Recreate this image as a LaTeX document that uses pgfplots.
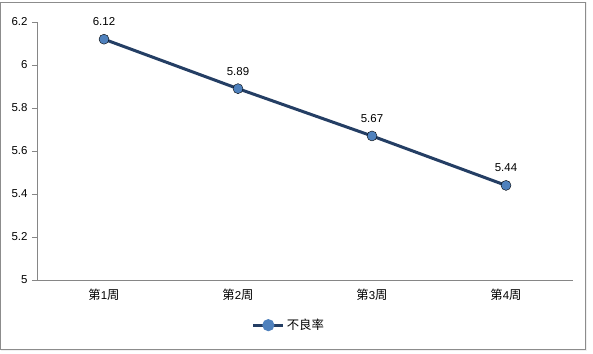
\documentclass[border=0pt]{standalone}
\usepackage{fontspec}
\setmainfont{Liberation Sans}
\newfontfamily\cjk[Scale=1.08]{Noto Sans CJK SC}
\usepackage{pgfplots}
\pgfplotsset{compat=1.18}
\definecolor{lineblue}{RGB}{36,62,100}
\definecolor{markblue}{RGB}{79,129,189}
\definecolor{axgray}{RGB}{134,134,134}
\pgfplotstableread{
x y lbl
1 6.12 6.12
2 5.89 5.89
3 5.67 5.67
4 5.44 5.44
}\datatable
\begin{document}
\begin{tikzpicture}[x=1bp,y=1bp]
\useasboundingbox (-37,-73) rectangle (556,280);
\fill[black!6] (-36,-71) rectangle (550,278);
\draw[black!45,line width=1bp,fill=white] (-36,-69) rectangle (548,278);
\begin{axis}[
  at={(0,0)}, anchor=origin,
  scale only axis, width=536bp, height=258bp,
  xmin=0.5, xmax=4.5, ymin=5, ymax=6.2,
  axis x line*=bottom, axis y line*=left,
  axis line style={axgray, line width=0.8bp},
  xtick={1,2,3,4},
  xticklabels={{\cjk 第}1{\cjk 周},{\cjk 第}2{\cjk 周},{\cjk 第}3{\cjk 周},{\cjk 第}4{\cjk 周}},
  xtick style={draw=none},
  extra x ticks={0.5,1.5,2.5,3.5,4.5},
  extra x tick labels={},
  extra x tick style={tick style={axgray, line width=0.8bp, draw=axgray}, major tick length=5bp, tick align=outside},
  ytick={5,5.2,5.4,5.6,5.8,6,6.2},
  yticklabels={5,5.2,5.4,5.6,5.8,6,6.2},
  ytick style={axgray, line width=0.8bp},
  tick align=outside, major tick length=5bp,
  tick label style={font=\fontsize{11.5}{13}\selectfont, black},
  yticklabel style={xshift=-1bp},
  xticklabel style={yshift=-1bp},
  /pgf/number format/assume math mode=true,
  legend style={at={(0.47,-0.175)}, anchor=center, draw=none, fill=none, font=\fontsize{11.5}{13}\selectfont\cjk, legend columns=1},
  legend image code/.code={
    \draw[lineblue, line width=3bp] (0bp,0bp) -- (30bp,0bp);
    \fill[markblue] (15bp,0bp) circle (4.5bp);
  },
  clip=false,
]
\addplot[lineblue, line width=3bp, no marks] table[x=x,y=y] {\datatable};
\addlegendentry{不良率}
\addplot[only marks, mark=*, mark size=5bp, draw=none, fill=markblue, mark options={draw=none, fill=markblue},
  nodes near coords, point meta=explicit symbolic,
  every node near coord/.append style={font=\fontsize{11.5}{13}\selectfont, text=black, yshift=10bp},
  forget plot] table[x=x,y=y,meta=lbl] {\datatable};
\end{axis}
\end{tikzpicture}
\end{document}
